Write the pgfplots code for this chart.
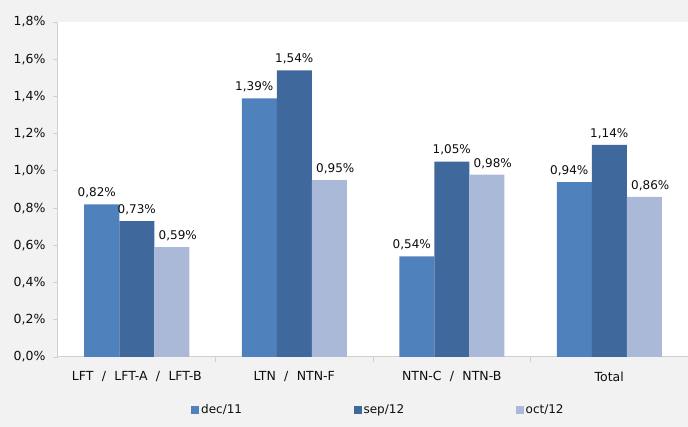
\documentclass[border=0pt]{standalone}
\usepackage{pgfplots}
\pgfplotsset{compat=1.18}
\usepackage{fontspec}
\setmainfont{DejaVu Sans}

\definecolor{bgfig}{HTML}{F2F2F2}
\definecolor{axgray}{HTML}{D0D0D0}
\definecolor{cdec}{HTML}{4F81BD}
\definecolor{csep}{HTML}{3F699C}
\definecolor{coct}{HTML}{AAB9D7}
\definecolor{txt}{HTML}{0D0D0D}

\begin{document}
\begin{tikzpicture}[x=1pt,y=1pt]
  % figure background
  \fill[bgfig] (-58,-70) rectangle (630,357);
  \begin{axis}[
    at={(0,0)}, anchor=south west,
    scale only axis,
    width=630pt, height=335pt,
    axis background/.style={fill=white},
    ybar=0pt, bar width=35pt,
    xmin=-0.5, xmax=3.5,
    ymin=0, ymax=1.8,
    ytick={0,0.2,...,1.8},
    xtick={0,1,2,3},
    xticklabels={LFT\hspace{0.35em} / \hspace{0.35em}LFT-A\hspace{0.35em} / \hspace{0.35em}LFT-B,
                 LTN\hspace{0.35em} / \hspace{0.35em}NTN-F,
                 NTN-C\hspace{0.35em} / \hspace{0.35em}NTN-B,
                 Total},
    minor xtick={0.5,1.5,2.5},
    axis lines*=left,
    axis line style={draw=axgray, line width=1pt},
    tick align=outside,
    major tick length=5pt,
    minor tick length=5pt,
    major x tick style={draw=none},
    minor x tick style={draw=axgray, line width=0.8pt},
    y tick style={draw=axgray, line width=0.8pt},
    /pgf/number format/assume math mode=true,
    yticklabel={\pgfmathprintnumber[fixed,fixed zerofill,precision=1,use comma]{\tick}\%},
    ticklabel style={font=\fontsize{12.5}{14}\selectfont, text=txt},
    xticklabel style={yshift=-6pt},
    yticklabel style={xshift=-4pt},
    nodes near coords={\pgfmathprintnumber[fixed,fixed zerofill,precision=2,use comma,assume math mode=true]{\pgfplotspointmeta}\%},
    every node near coord/.append style={font=\fontsize{12}{14}\selectfont, text=txt, inner sep=2pt, yshift=4pt},
    legend columns=3,
    legend style={
      at={(130pt,-53pt)}, anchor=west,
      draw=none, fill=none,
      font=\fontsize{12}{14}\selectfont, text=txt,
      /tikz/every odd column/.append style={column sep=0pt},
      /tikz/every even column/.append style={column sep=109.5pt},
    },
    legend image code/.code={\fill[#1] (0pt,-4pt) rectangle (8pt,4pt);},
    legend cell align=left,
  ]
    \addplot[fill=cdec, draw=none, every node near coord/.append style={xshift=-5pt}]
      coordinates {(0,0.82) (1,1.39) (2,0.54) (3,0.94)};
    \addplot[fill=csep, draw=none]
      coordinates {(0,0.73) (1,1.54) (2,1.05) (3,1.14)};
    \addplot[fill=coct, draw=none, every node near coord/.append style={xshift=6pt}]
      coordinates {(0,0.59) (1,0.95) (2,0.98) (3,0.86)};
    \legend{dec/11,sep/12,oct/12}
  \end{axis}
  \pgfresetboundingbox
  \useasboundingbox (-58,-70) rectangle (630,357);
\end{tikzpicture}
\end{document}
